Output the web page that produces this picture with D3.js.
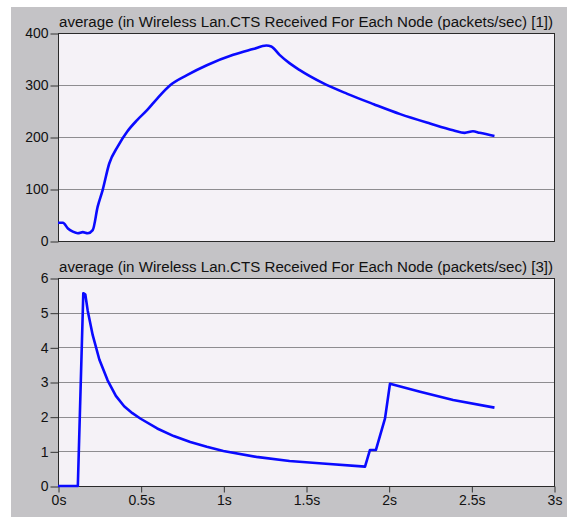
<!DOCTYPE html>
<html>
<head>
<meta charset="utf-8">
<script src="https://cdn.jsdelivr.net/npm/d3@7"></script>
<style>
  body { margin: 0; background: #fff; }
  svg { display: block; font-family: "Liberation Sans", Arial, sans-serif; }
</style>
</head>
<body>
<svg id="chart" width="567" height="517"></svg>
<script>
// panel titles
const titles = [
  'average (in Wireless Lan.CTS Received For Each Node (packets/sec) [1])',
  'average (in Wireless Lan.CTS Received For Each Node (packets/sec) [3])'
];

// node [1] series (time in s, packets/sec)
const timeTop = [0, 0.03, 0.06, 0.09, 0.12, 0.15, 0.18, 0.21, 0.24, 0.27, 0.31, 0.36, 0.42, 0.48, 0.54, 0.6, 0.68, 0.78, 0.9, 1.06, 1.18, 1.26, 1.29, 1.34, 1.4, 1.46, 1.6, 1.75, 1.91, 2.07, 2.25, 2.39, 2.46, 2.51, 2.55, 2.64];
const valuesTop = [35, 35, 24, 18, 15, 17, 15, 21, 66, 98, 149, 181, 211, 233, 252, 274, 300, 319, 338, 358, 369, 376, 374, 358, 342, 329, 304, 283, 263, 244, 226, 213, 208, 211, 208, 202];

// node [3] series
const timeBottom = [0, 0.12, 0.153, 0.165, 0.18, 0.21, 0.25, 0.3, 0.35, 0.4, 0.45, 0.5, 0.6, 0.7, 0.8, 0.9, 1.0, 1.2, 1.4, 1.6, 1.857, 1.887, 1.923, 1.978, 2.008, 2.19, 2.39, 2.64];
const valuesBottom = [0, 0, 5.56, 5.53, 5.05, 4.35, 3.65, 3.05, 2.6, 2.3, 2.1, 1.94, 1.66, 1.44, 1.27, 1.13, 1.01, 0.84, 0.72, 0.65, 0.56, 1.04, 1.04, 1.95, 2.95, 2.72, 2.48, 2.26];

const yTicksTop = [0, 100, 200, 300, 400];
const yTicksBottom = [0, 1, 2, 3, 4, 5, 6];
const xTicks = [0, 0.5, 1, 1.5, 2, 2.5, 3];

const svg = d3.select('#chart');

svg.append('rect')
  .attr('x', 11).attr('y', 7)
  .attr('width', 556).attr('height', 510)
  .attr('fill', '#c4c3c6');

const left = 58, right = 554;
const x = d3.scaleLinear().domain([0, 3]).range([left, right]);

const panels = [
  { title: titles[0], top: 33, bottom: 241, max: 400, ticks: yTicksTop, t: timeTop, v: valuesTop, xAxis: false, curve: d3.curveMonotoneX },
  { title: titles[1], top: 278, bottom: 486, max: 6, ticks: yTicksBottom, t: timeBottom, v: valuesBottom, xAxis: true, curve: d3.curveLinear }
];

panels.forEach(p => {
  const y = d3.scaleLinear().domain([0, p.max]).range([p.bottom, p.top]);
  const g = svg.append('g');

  g.append('rect')
    .attr('x', left).attr('y', p.top)
    .attr('width', right - left).attr('height', p.bottom - p.top)
    .attr('fill', '#f5f2f7');

  // horizontal grid
  g.selectAll('line.grid')
    .data(p.ticks.slice(1, -1))
    .join('line')
    .attr('class', 'grid')
    .attr('x1', left).attr('x2', right)
    .attr('y1', d => Math.round(y(d)) + 0.5)
    .attr('y2', d => Math.round(y(d)) + 0.5)
    .attr('stroke', '#8e8d90')
    .attr('stroke-width', 1);

  const yAxis = d3.axisLeft(y).tickValues(p.ticks).tickSize(8).tickPadding(2)
    .tickFormat(d3.format('d'));
  const ya = g.append('g')
    .attr('transform', `translate(${left + 0.5},0.5)`)
    .call(yAxis);
  ya.select('.domain').remove();
  ya.selectAll('line').attr('stroke', '#333');
  ya.selectAll('text')
    .attr('fill', '#111')
    .style('font-size', '14px')
    .style('font-family', '"Liberation Sans", Arial, sans-serif');

  if (p.xAxis) {
    const xAxis = d3.axisBottom(x).tickValues(xTicks).tickSize(6).tickPadding(3)
      .tickFormat(d => d + 's');
    const xa = g.append('g')
      .attr('transform', `translate(0.5,${p.bottom + 0.5})`)
      .call(xAxis);
    xa.select('.domain').remove();
    xa.selectAll('line').attr('stroke', '#333');
    xa.selectAll('text')
      .attr('fill', '#111')
      .style('font-size', '14px')
      .style('font-family', '"Liberation Sans", Arial, sans-serif');
  }

  // frame
  g.append('rect')
    .attr('x', left + 0.5).attr('y', p.top + 0.5)
    .attr('width', right - left).attr('height', p.bottom - p.top)
    .attr('fill', 'none')
    .attr('stroke', '#2a2a2a')
    .attr('stroke-width', 1);

  const line = d3.line()
    .x((d, i) => x(p.t[i]))
    .y(d => y(d))
    .curve(p.curve);

  g.append('path')
    .datum(p.v)
    .attr('d', line)
    .attr('fill', 'none')
    .attr('stroke', '#0a0aff')
    .attr('stroke-width', 2.6)
    .attr('stroke-linejoin', 'round');

  g.append('text')
    .attr('x', left + 1)
    .attr('y', p.top - 6)
    .attr('fill', '#111')
    .attr('textLength', 494)
    .attr('lengthAdjust', 'spacingAndGlyphs')
    .style('font-size', '14px')
    .text(p.title);
});
</script>
</body>
</html>
